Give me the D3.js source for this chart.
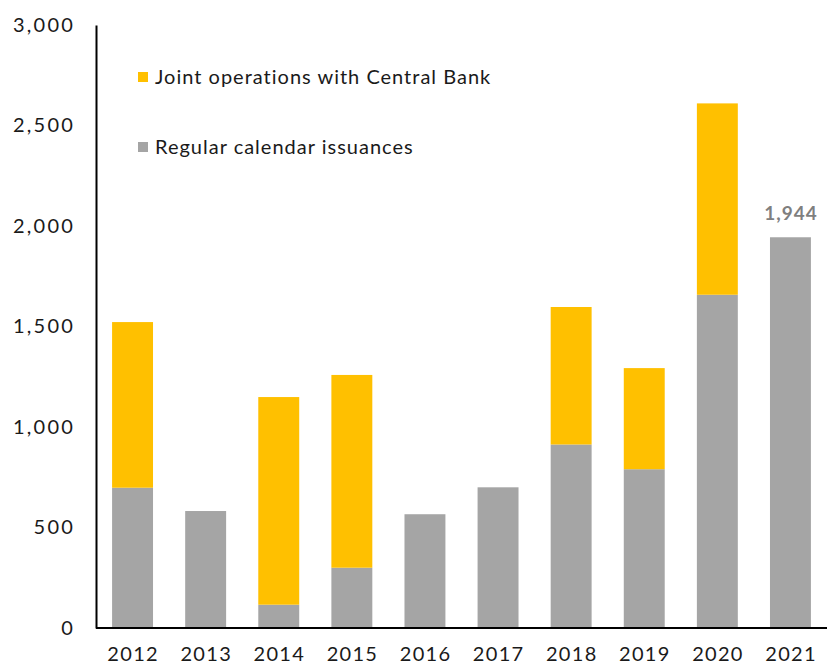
<!DOCTYPE html>
<html><head><meta charset="utf-8">
<script src="https://cdn.jsdelivr.net/npm/d3@7"></script>
<style>body{margin:0;background:#fff}svg{display:block}text{font-family:Lato,"Open Sans",sans-serif}</style>
</head><body>
<svg id="c" width="827" height="664"></svg>
<script>
const years = ["2012","2013","2014","2015","2016","2017","2018","2019","2020","2021"];
const regular = [698, 582, 116, 300, 566, 700, 913, 790, 1658, 1944];
const joint = [824, 0, 1033, 959, 0, 0, 684, 503, 952, 0];
const seriesNames = ["Regular calendar issuances", "Joint operations with Central Bank"];
const colors = ["#A5A5A5", "#FFC000"];
const yTicks = [0, 500, 1000, 1500, 2000, 2500, 3000];
const labelValue = 1944;

const svg = d3.select("#c");
const m = {l: 96, r: 0, t: 25, b: 36};
const W = 827, H = 664;
const x = d3.scaleBand().domain(years).range([m.l, W - m.r]).paddingInner(0.44).paddingOuter(0.22);
const y = d3.scaleLinear().domain([0, 3000]).range([628, 25]);

const data = years.map((yr, i) => ({year: yr, regular: regular[i], joint: joint[i]}));
const stack = d3.stack().keys(["regular", "joint"])(data);

svg.append("g").selectAll("g").data(stack).join("g")
  .attr("fill", (d, i) => colors[i])
  .selectAll("rect").data(d => d).join("rect")
  .attr("x", d => x(d.data.year))
  .attr("width", x.bandwidth())
  .attr("y", d => y(d[1]))
  .attr("height", d => y(d[0]) - y(d[1]));

// y axis
const ya = svg.append("g").attr("transform", `translate(${m.l},0)`)
  .call(d3.axisLeft(y).tickValues(yTicks).tickSize(0).tickPadding(21).tickFormat(d3.format(",")));
ya.select(".domain").attr("stroke", "#000").attr("stroke-width", 2);
ya.selectAll("text").attr("font-size", 20).attr("fill", "#1a1a1a").attr("font-family", "Lato")
  .attr("letter-spacing", "2.2px");

// x axis
const xa = svg.append("g").attr("transform", `translate(0,${y(0)})`)
  .call(d3.axisBottom(x).tickSize(0).tickPadding(19));
xa.select(".domain").attr("stroke", "#000").attr("stroke-width", 2).attr("d", `M${m.l},0H${W}`);
xa.selectAll("text").attr("font-size", 20).attr("fill", "#1a1a1a").attr("font-family", "Lato")
  .attr("letter-spacing", "1.3px").attr("dx", "0.6px");

// data label
svg.append("text")
  .attr("x", x("2021") + x.bandwidth() / 2 + 0.5)
  .attr("y", y(labelValue) - 17)
  .attr("text-anchor", "middle")
  .attr("font-size", 19).attr("font-weight", "bold").attr("fill", "#7F7F7F")
  .attr("letter-spacing", "1px")
  .text(d3.format(",")(labelValue));

// legend
const legend = [
  {name: seriesNames[1], color: colors[1], y: 77},
  {name: seriesNames[0], color: colors[0], y: 147}
];
const lg = svg.append("g").selectAll("g").data(legend).join("g")
  .attr("transform", d => `translate(138,${d.y})`);
lg.append("rect").attr("x", 0).attr("y", -5).attr("width", 10).attr("height", 10).attr("fill", d => d.color);
lg.append("text").attr("x", 17).attr("y", 7).attr("font-size", 20).attr("fill", "#1a1a1a")
  .attr("letter-spacing", "1px").text(d => d.name);
</script>
</body></html>
